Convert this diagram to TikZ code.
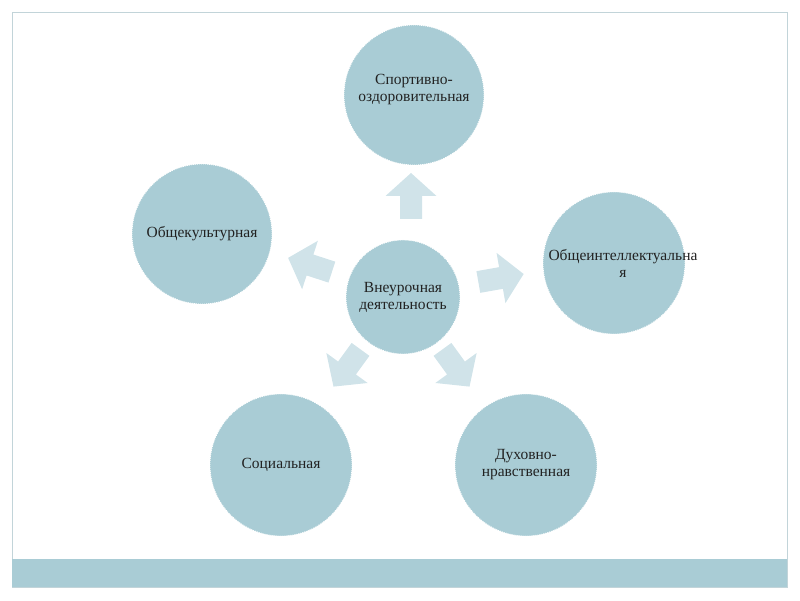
\documentclass[tikz,border=0pt]{standalone}
\usepackage{fontspec}
\setmainfont{Liberation Serif}
\definecolor{circ}{HTML}{A9CCD5}
\definecolor{arr}{HTML}{D0E3E9}
\definecolor{frame}{HTML}{C2D4D9}
\definecolor{txt}{HTML}{222222}
\begin{document}
\begin{tikzpicture}[x=1pt,y=1pt,
  bubble/.style={circle,fill=circ,draw=white,line width=0.8pt,dash pattern=on 1pt off 1pt,
    inner sep=0pt,align=center,text=txt,font=\fontsize{15.5}{17}\selectfont},
  blockarrow/.style={fill=arr,draw=none}]
\useasboundingbox (0,0) rectangle (800,600);
% frame and band
\draw[frame,line width=1pt] (12,13) rectangle (787,587);
\fill[circ] (12,13) rectangle (787,41);
% nodes
\node[bubble,minimum size=114pt] (c) at (403,303) {Внеурочная\\деятельность};
\node[bubble,minimum size=140pt] (t) at (414,505) {Спортивно-\\оздоровительная\\[-2pt]\mbox{}};
\node[bubble,minimum size=140pt] (l) at (202,366) {Общекультурная};
\node[bubble,minimum size=142pt] (r) at (614,337) {\makebox[0pt]{\hspace{18pt}Общеинтеллектуальна}\\\makebox[0pt]{\hspace{18pt}я}};
\node[bubble,minimum size=142pt] (bl) at (281,135) {Социальная};
\node[bubble,minimum size=142pt] (br) at (526,135) {Духовно-\\нравственная};
% block arrows
\foreach \cx/\cy/\ang in {411/404/90, 310/335/162, 347/232/234, 456/232/306, 501/322/10}{
  \fill[arr,shift={(\cx,\cy)},rotate=\ang]
    (-23,-11) -- (0,-11) -- (0,-25.5) -- (23,0) -- (0,25.5) -- (0,11) -- (-23,11) -- cycle;
}
\end{tikzpicture}
\end{document}
